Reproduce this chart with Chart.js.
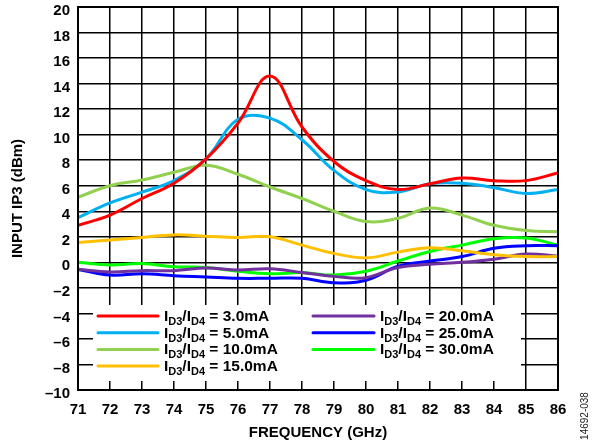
<!DOCTYPE html>
<html>
<head>
<meta charset="utf-8">
<script src="https://cdn.jsdelivr.net/npm/chart.js@4.4.1/dist/chart.umd.min.js"></script>
<style>
  html, body { margin: 0; padding: 0; background: #fff; }
  #wrap { width: 594px; height: 446px; }
</style>
</head>
<body>
<div id="wrap"><canvas id="chart-ip3" width="594" height="446"></canvas></div>
<script>
const freqs = [71, 72, 73, 74, 75, 76, 77, 78, 79, 80, 81, 82, 83, 84, 85, 86];

const ip3_3mA  = [2.9, 3.7, 5.0, 6.2, 8.1, 10.9, 14.6, 10.6, 7.9, 6.4, 5.7, 6.15, 6.6, 6.4, 6.4, 7.0];
const ip3_5mA  = [3.5, 4.65, 5.5, 6.4, 8.1, 11.2, 11.3, 9.6, 7.2, 5.7, 5.5, 6.15, 6.2, 5.85, 5.4, 5.7];
const ip3_10mA = [5.1, 6.0, 6.45, 7.05, 7.6, 6.9, 5.9, 5.0, 4.0, 3.2, 3.45, 4.25, 3.7, 2.9, 2.5, 2.4];
const ip3_15mA = [1.55, 1.75, 1.95, 2.15, 2.05, 1.95, 2.0, 1.35, 0.7, 0.35, 0.8, 1.15, 0.9, 0.6, 0.45, 0.45];
const ip3_20mA = [-0.55, -0.75, -0.65, -0.65, -0.45, -0.6, -0.5, -0.8, -1.1, -1.2, -0.4, -0.15, 0.0, 0.25, 0.65, 0.5];
const ip3_25mA = [-0.55, -1.0, -0.9, -1.05, -1.15, -1.25, -1.25, -1.25, -1.6, -1.4, -0.3, 0.1, 0.45, 1.1, 1.3, 1.3];
const ip3_30mA = [0.0, -0.2, -0.1, -0.35, -0.4, -0.7, -0.9, -0.8, -1.0, -0.7, 0.1, 0.85, 1.35, 1.85, 1.9, 1.35];

const currents = ['3.0', '5.0', '10.0', '15.0', '20.0', '25.0', '30.0'];
const colors = ['#ff0000', '#00b0f0', '#92d050', '#ffc000', '#7030a0', '#0000ff', '#00ff00'];
const series = [ip3_3mA, ip3_5mA, ip3_10mA, ip3_15mA, ip3_20mA, ip3_25mA, ip3_30mA];

const FONT = '"Liberation Sans", Arial, sans-serif';

// legend with subscripts, drawn by hand
const legendBox = {
  id: 'legendBox',
  afterDatasetsDraw(chart) {
    const c = chart.ctx;
    c.save();
    c.fillStyle = '#fff';
    c.fillRect(93, 305, 428, 76);
    const cols = [{ x0: 98, x1: 158, tx: 164 }, { x0: 313, x1: 374, tx: 380 }];
    const rowY = [316, 332.7, 349.4, 366];
    currents.forEach((cur, i) => {
      const col = i < 4 ? cols[0] : cols[1];
      const y = rowY[i < 4 ? i : i - 4];
      c.strokeStyle = colors[i];
      c.lineWidth = 3;
      c.lineCap = 'round';
      c.beginPath();
      c.moveTo(col.x0, y);
      c.lineTo(col.x1, y);
      c.stroke();

      c.fillStyle = '#000';
      c.textBaseline = 'alphabetic';
      c.textAlign = 'left';
      let x = col.tx;
      const base = y + 5;
      const parts = [['I', 0], ['D3', 1], ['/I', 0], ['D4', 1], [' = ' + cur + 'mA', 0]];
      parts.forEach(([t, sub]) => {
        c.font = sub ? 'bold 11px ' + FONT : 'bold 15.5px ' + FONT;
        c.fillText(t, x, sub ? base + 4 : base);
        x += c.measureText(t).width;
      });
    });
    c.restore();
  },
  afterDraw(chart) {
    const c = chart.ctx;
    const a = chart.chartArea;
    c.save();
    c.strokeStyle = '#000';
    c.lineWidth = 2;
    c.strokeRect(a.left, a.top, a.right - a.left, a.bottom - a.top);
    c.translate(585, 416);
    c.rotate(-Math.PI / 2);
    c.font = '10px ' + FONT;
    c.fillStyle = '#222';
    c.textAlign = 'center';
    c.textBaseline = 'middle';
    c.fillText('14692-038', 0, 0);
    c.restore();
  }
};

new Chart(document.getElementById('chart-ip3'), {
  type: 'line',
  data: {
    datasets: series.map((vals, i) => ({
      label: 'ID3/ID4 = ' + currents[i] + 'mA',
      data: vals.map((v, k) => ({ x: freqs[k], y: v })),
      borderColor: colors[i],
      borderWidth: 3,
      pointRadius: 0,
      tension: 0.4,
      fill: false
    }))
  },
  options: {
    responsive: false,
    animation: false,
    layout: { padding: { top: 7, right: 36, left: 0, bottom: 0 } },
    plugins: {
      legend: { display: false },
      tooltip: { enabled: false }
    },
    scales: {
      x: {
        type: 'linear',
        min: 71,
        max: 86,
        afterFit: (s) => { s.height = 56; s.paddingLeft = 0; s.paddingRight = 0; },
        grid: { color: '#000', lineWidth: 1.5, drawTicks: false },
        border: { display: false },
        ticks: {
          stepSize: 1,
          padding: 11,
          color: '#000',
          font: { family: FONT, size: 15, weight: 'bold' }
        },
        title: {
          display: true,
          text: 'FREQUENCY (GHz)',
          color: '#000',
          padding: { top: 0, bottom: 4 },
          font: { family: FONT, size: 15, weight: 'bold' }
        }
      },
      y: {
        min: -10,
        max: 20,
        afterFit: (s) => { s.width = 78; s.paddingTop = 0; s.paddingBottom = 0; },
        grid: { color: '#000', lineWidth: 1.5, drawTicks: false },
        border: { display: false },
        ticks: {
          stepSize: 2,
          padding: 8,
          labelOffset: 4,
          color: '#000',
          font: { family: FONT, size: 15, weight: 'bold' },
          callback: (v) => String(v).replace('-', '\u2013')
        },
        title: {
          display: true,
          text: 'INPUT IP3 (dBm)',
          color: '#000',
          padding: { top: 9, bottom: 0 },
          font: { family: FONT, size: 15, weight: 'bold' }
        }
      }
    }
  },
  plugins: [legendBox]
});
</script>
</body>
</html>
